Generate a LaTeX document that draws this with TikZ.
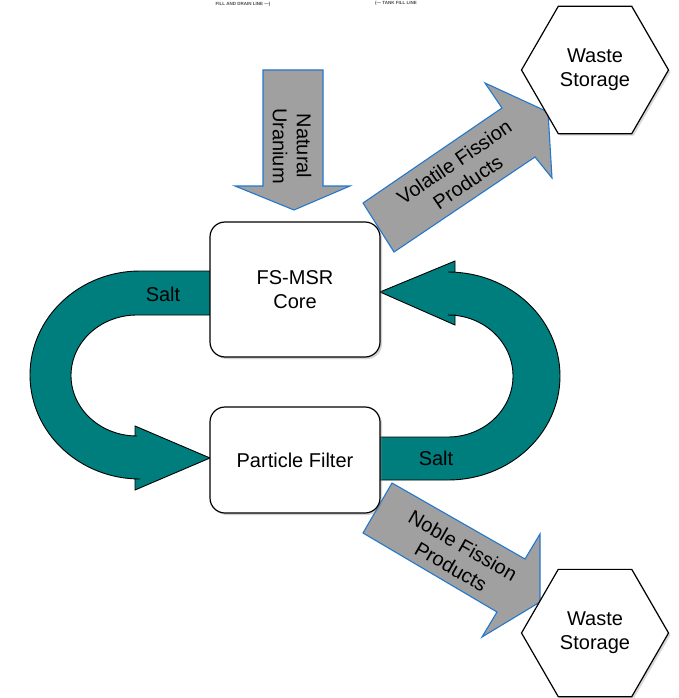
\documentclass[tikz,border=0pt]{standalone}
\usepackage{fontspec}
\setmainfont{Liberation Sans}
\usetikzlibrary{shapes.geometric,shadows}
\definecolor{tealfill}{RGB}{0,125,125}
\definecolor{arrowblue}{RGB}{35,120,205}
\definecolor{arrowgray}{RGB}{160,160,160}
\begin{document}
\begin{tikzpicture}[x=1pt,y=-1pt,
  font=\fontsize{20}{24}\selectfont,
  procbox/.style={draw=black, line width=1.2pt, fill=white, rounded corners=15pt,
    minimum width=170pt, align=center, inner sep=0pt,
    drop shadow={shadow xshift=2pt, shadow yshift=-2pt, opacity=0.35}},
  storehex/.style={regular polygon, regular polygon sides=6, minimum size=147pt,
    draw=black, line width=1.2pt, fill=white, align=center, inner sep=0pt,
    drop shadow={shadow xshift=2pt, shadow yshift=-2pt, opacity=0.3}},
  grayarrow/.style={draw=arrowblue, line width=1.1pt, fill=arrowgray, line join=miter},
  saltarrow/.style={draw=black, line width=0.9pt, fill=tealfill, line join=miter},
  lbl/.style={inner sep=0pt, align=center},
  tiny/.style={inner sep=0pt, font=\fontsize{4.5}{5}\selectfont\bfseries, text=black!70}
]
\useasboundingbox[fill=white] (0,0) rectangle (679,698);

% remnant labels at the top
\node[tiny] (fd) at (243,4) {FILL AND DRAIN LINE ---)};
\node[tiny] (tf) at (396,3) {(--- TANK FILL LINE};

% natural uranium arrow
\draw[grayarrow] (263,70) -- (323,70) -- (323,186) -- (350,186) -- (294,210)
  -- (235,186) -- (263,186) -- cycle;
\node[lbl, rotate=-90] (nu) at (292,146) {Natural\\Uranium};

% volatile fission products arrow
\draw[grayarrow] (363,203) -- (502,108) -- (485,83) -- (548,112) -- (552,178)
  -- (535,157) -- (394,252) -- cycle;
\node[lbl, rotate=34.3] (vfp) at (461,172) {Volatile Fission\\Products};

% noble fission products arrow
\draw[grayarrow] (392,483) -- (525,559) -- (540,534) -- (540,602) -- (482,637)
  -- (497,612) -- (363,533) -- cycle;
\node[lbl, rotate=-29.7] (nfp) at (457,556) {Noble Fission\\Products};

% left salt loop
\draw[saltarrow] (212,271) -- (140,271)
  arc[start angle=270, end angle=90, x radius=110, y radius=104]
  -- (135,479) -- (135,490) -- (210,458) -- (135,426) -- (135,436) -- (137,436)
  arc[start angle=90, end angle=270, x radius=66, y radius=60.5]
  -- (212,315) -- cycle;
\node[lbl] (salt1) at (163,294) {Salt};

% right salt loop
\draw[saltarrow] (378,437) -- (448,437)
  arc[start angle=90, end angle=-90, x radius=65, y radius=61]
  -- (455,315) -- (455,325) -- (380,292) -- (455,261) -- (455,272) -- (448,272)
  arc[start angle=-90, end angle=90, x radius=112, y radius=104]
  -- (378,480) -- cycle;
\node[lbl] (salt2) at (436,458) {Salt};

% process boxes
\node[procbox, minimum height=135pt] (core) at (295,289.5) {FS-MSR\\Core};
\node[procbox, minimum height=106pt] (filter) at (295,460) {Particle Filter};

% waste storage
\node[storehex] (waste1) at (595,70) {Waste\\Storage};
\node[storehex] (waste2) at (595,633) {Waste\\Storage};
\end{tikzpicture}
\end{document}
